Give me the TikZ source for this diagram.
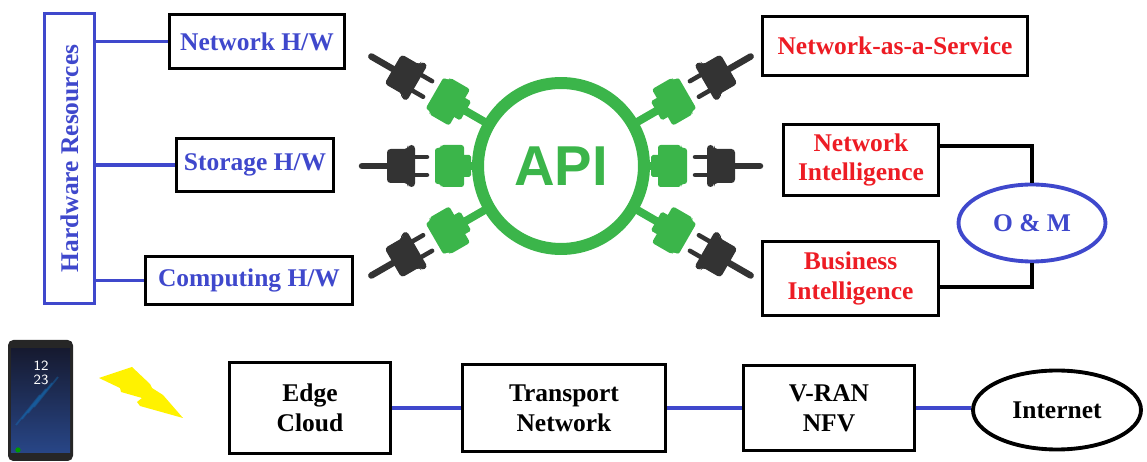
\documentclass[tikz,border=0pt]{standalone}
\usepackage{fontspec}
\setmainfont{Liberation Serif}
\newfontfamily\apifont{Liberation Sans}
\usetikzlibrary{shapes.geometric}

\definecolor{hwblue}{RGB}{63,72,204}
\definecolor{svcred}{RGB}{237,28,36}
\definecolor{apigreen}{RGB}{59,181,74}
\definecolor{plugdark}{RGB}{51,51,51}
\definecolor{boltyellow}{RGB}{255,242,0}
\definecolor{phonetop}{RGB}{22,26,48}
\definecolor{phonemid}{RGB}{52,78,140}
\definecolor{phonebot}{RGB}{40,70,135}

\tikzset{
  boxtext/.style={font=\fontsize{14.5}{17}\selectfont\bfseries, align=center, inner sep=0pt},
  hwbox/.style={boxtext, draw=black, line width=2.2pt, text=hwblue},
  svcbox/.style={boxtext, draw=black, line width=2.2pt, text=svcred},
  netbox/.style={boxtext, draw=black, line width=2.2pt, text=black},
  bluelink/.style={draw=hwblue, line width=2.2pt},
  blacklink/.style={draw=black, line width=1.9pt},
}

\begin{document}
\begin{tikzpicture}[x=0.02cm, y=-0.02cm]
        \useasboundingbox (0,0) rectangle (1147,462);

        % Hardware resources
        \node[boxtext, draw=hwblue, line width=2.2pt, text=hwblue, minimum width=1cm, minimum height=5.8cm] (hw) at (69.5,158.5) {\rotatebox{90}{Hardware Resources}};
        \node[hwbox, minimum width=3.5cm, minimum height=1.08cm] (nethw) at (257,41.5) {Network H/W};
        \node[hwbox, minimum width=3.14cm, minimum height=1.06cm] (storhw) at (255,165) {Storage H/W};
        \node[hwbox, minimum width=4.14cm, minimum height=0.96cm] (comphw) at (249,280.5) {Computing H/W};

        \draw[bluelink] (hw.east |- nethw.west) -- (nethw.west);
        \draw[bluelink] (hw.east |- storhw.west) -- (storhw.west);
        \draw[bluelink] (hw.east |- comphw.west) -- (comphw.west);

        % API ring
        \node[circle, draw=apigreen, line width=0.24cm, minimum size=3.32cm, inner sep=0pt, text=apigreen, font=\apifont\fontsize{32}{32}\selectfont\bfseries] (api) at (561,166) {API};

        % Sockets and plugs round the ring
        \foreach \a/\o in {0/0, 180/0, 30/20, 150/20, -30/20, 210/20}{
          \begin{scope}[shift={(api.center)}, rotate=\a]
            \draw[apigreen, line width=0.16cm] (85,0) -- ({98+\o},0);
            \fill[apigreen, rounded corners=1pt] ({90+\o},-11) rectangle ({99+\o},11);
            \fill[apigreen, rounded corners=1.5pt] ({97+\o},-21) -- ({120+\o},-21) -- ({120+\o},-18) -- ({126+\o},-18)
              -- ({126+\o},18) -- ({120+\o},18) -- ({120+\o},21) -- ({97+\o},21) -- cycle;
            \draw[plugdark, line width=0.09cm, line cap=round] ({134+\o},-9) -- ({148+\o},-9);
            \draw[plugdark, line width=0.09cm, line cap=round] ({134+\o},9) -- ({148+\o},9);
            \fill[plugdark, rounded corners=2pt] ({146+\o},-21) -- ({153+\o},-21) -- ({153+\o},-17) -- ({174+\o},-17)
              -- ({174+\o},17) -- ({153+\o},17) -- ({153+\o},21) -- ({146+\o},21) -- cycle;
            \draw[plugdark, line width=0.13cm, line cap=round] ({172+\o},0) -- ({199+\o},0);
          \end{scope}
        }

        % Services
        \node[svcbox, minimum width=5.3cm, minimum height=1.18cm] (naas) at (895,46) {Network-as-a-Service};
        \node[svcbox, minimum width=3.1cm, minimum height=1.42cm] (ni) at (861,160) {Network\\Intelligence};
        \node[svcbox, minimum width=3.52cm, minimum height=1.48cm] (bi) at (850.5,278.5) {Business\\Intelligence};
        \node[boxtext, ellipse, draw=hwblue, line width=2.2pt, text=hwblue, minimum width=2.94cm, minimum height=1.54cm] (om) at (1032,223) {O \& M};

        \draw[blacklink] ([yshift=0.28cm]ni.east) -| (om.north);
        \draw[blacklink] ([yshift=-0.17cm]bi.east) -| (om.south);

        % Phone
        \fill[black!85, rounded corners=3pt] (8,340) rectangle (73,461);
        \shade[top color=phonetop, middle color=phonemid, bottom color=phonebot] (11,349) rectangle (70,453);
        \foreach \s in {0,6,12,18}{
          \draw[cyan!60!blue, opacity=0.35, line width=1pt] ({16+\s},{425-\s}) -- ({40+\s},{395-\s});
        }
        \node[text=white, font=\sffamily\fontsize{8}{8}\selectfont, align=center, inner sep=0pt] (clock) at (41,373) {12\\23};
        \fill[green!60!black] (18,450) circle (1.5pt);

        % Radio link
        \fill[boltyellow] (99,378) -- (132,367) -- (150,384) -- (152,388) -- (163,395) -- (183,418) -- (140,406)
          -- (137,402) -- (142,398) -- (121,392) -- (120,388) -- cycle;

        % Access and core chain
        \node[netbox, minimum width=3.22cm, minimum height=1.82cm] (edge) at (310,408) {Edge\\Cloud};
        \node[netbox, minimum width=4.06cm, minimum height=1.74cm] (tn) at (564,408) {Transport\\Network};
        \node[netbox, minimum width=3.42cm, minimum height=1.7cm] (vran) at (829,408) {V-RAN\\NFV};
        \node[netbox, ellipse, minimum width=3.36cm, minimum height=1.58cm] (inet) at (1057,410) {Internet};

        \draw[bluelink] (edge.east) -- (tn.west);
        \draw[bluelink] (tn.east) -- (vran.west);
        \draw[bluelink] (vran.east) -- (vran.east -| inet.west);
    \end{tikzpicture}
\end{document}
